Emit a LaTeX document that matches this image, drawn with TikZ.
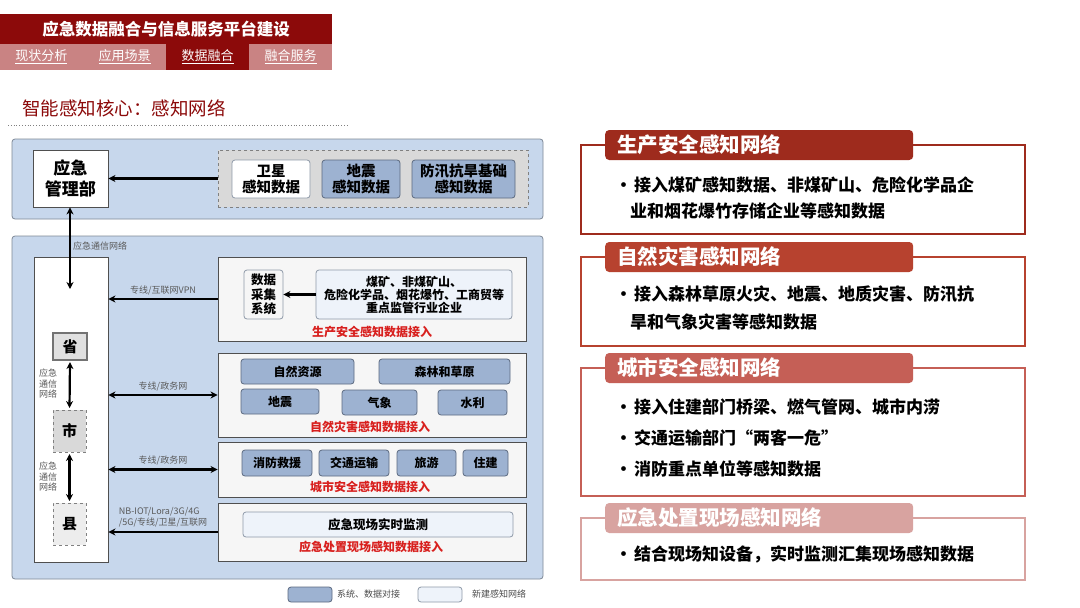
\documentclass[tikz,border=0pt]{standalone}
\usepackage{fontspec}
\setmainfont{Noto Sans CJK SC}
\usetikzlibrary{arrows, arrows.meta, positioning}
\definecolor{headred}{HTML}{8C0A0A}
\definecolor{tabpink}{HTML}{C98383}
\definecolor{panelblue}{HTML}{C7D7EC}
\definecolor{panelline}{HTML}{7E8896}
\definecolor{sysblue}{HTML}{9DB2D1}
\definecolor{sysline}{HTML}{5C6A80}
\definecolor{newblue}{HTML}{EEF3FA}
\definecolor{newline}{HTML}{8E99A8}
\definecolor{secfill}{HTML}{F6F6F6}
\definecolor{secline}{HTML}{4F4F4F}
\definecolor{tagred}{HTML}{D8201E}
\definecolor{netgray}{HTML}{5A5A5A}
\definecolor{redA}{HTML}{9E2B1D}
\definecolor{redB}{HTML}{B7422F}
\definecolor{redC}{HTML}{C55F56}
\definecolor{redD}{HTML}{D8A3A0}
\tikzset{
  headbar/.style={fill=headred, text=white, inner sep=0, font=\fontsize{16.5}{18}\selectfont\bfseries},
  tabbox/.style={inner sep=0, text=white, minimum width=83, minimum height=26, font=\fontsize{13}{14}\selectfont}
}
\tikzset{
  panel/.style={draw=panelline, fill=panelblue, rounded corners=3, line width=0.8},
  sysbox/.style={draw=sysline, fill=sysblue, rounded corners=3, line width=0.8, inner sep=0,
    minimum height=25, font=\fontsize{12}{14}\selectfont\bfseries},
  newbox/.style={draw=newline, fill=newblue, rounded corners=3, line width=0.8, inner sep=0,
    font=\fontsize{12}{13}\selectfont\bfseries},
  secbox/.style={draw=secline, fill=secfill, line width=0.9, inner sep=0, minimum width=308},
  levelbox/.style={draw=gray, fill=#1, line width=1, dashed, inner sep=0, minimum width=33,
    minimum height=42, font=\fontsize{15}{16}\selectfont\bfseries},
  redtag/.style={text=tagred, inner sep=0, font=\fontsize{12}{13}\selectfont\bfseries},
  nettext/.style={text=netgray, inner sep=0, font=\fontsize{9}{11}\selectfont},
  link/.style={line width=2.2, black}
}
\tikzset{
  tabhead/.style={fill=#1, rounded corners=4, anchor=west, text=white, align=left, text width=284,
    inner xsep=12, inner ysep=0, minimum height=30, font=\fontsize{20.5}{22}\selectfont\bfseries},
  frame/.style={draw=#1, line width=1.4},
  bodytext/.style={anchor=west, inner sep=0, font=\fontsize{17}{20}\selectfont\bfseries}
}
\begin{document}
\begin{tikzpicture}[x=1pt, y=-1pt, >={Stealth[length=7pt, width=7pt]}]
  \useasboundingbox[fill=white] (0,0) rectangle (1080,608);

  % header
  \node[headbar, minimum width=332, minimum height=30] (head) at (166,29) {应急数据融合与信息服务平台建设};
  \node[tabbox, fill=tabpink] (tab1) at (41.5,57) {\underline{现状分析}};
  \node[tabbox, fill=tabpink] (tab2) at (124.5,57) {\underline{应用场景}};
  \node[tabbox, fill=headred] (tab3) at (207.5,57) {\underline{数据融合}};
  \node[tabbox, fill=tabpink] (tab4) at (290.5,57) {\underline{融合服务}};
  \node[anchor=west, inner sep=0, text=headred, font=\fontsize{18.5}{20}\selectfont] (sub) at (22,108) {智能感知核心：感知网络};
  \draw[dotted, gray, line width=0.8] (8,125) -- (348,125);

  % upper panel
  \node[panel, minimum width=531, minimum height=80] (top) at (277.5,179) {};
  \node[draw=secline, fill=white, line width=0.9, minimum width=75, minimum height=57, align=center,
    inner sep=0, font=\fontsize{17}{21}\selectfont\bfseries] (yjglb) at (70.5,178.5) {应急\\管理部};
  \node[draw=gray, fill=black!15, dashed, line width=0.9, minimum width=310, minimum height=57] (sensors) at (373,178.5) {};
  \node[newbox, fill=white, minimum width=78, minimum height=38, align=center,
    font=\fontsize{14.5}{16}\selectfont\bfseries] (wx) at (271,179) {卫星\\感知数据};
  \node[sysbox, minimum width=78, minimum height=38, align=center,
    font=\fontsize{14.5}{16}\selectfont\bfseries] (dz) at (361,179) {地震\\感知数据};
  \node[sysbox, minimum width=103, minimum height=38, align=center,
    font=\fontsize{14.5}{16}\selectfont\bfseries] (fx) at (463.5,179) {防汛抗旱基础\\感知数据};
  \draw[link, ->] (sensors.west) -- (yjglb.east);

  % lower panel
  \node[panel, minimum width=531, minimum height=343] (bottom) at (277.5,407.5) {};
  \node[nettext, anchor=west] (nettop) at (73,246) {应急通信网络};
  \node[draw=secline, fill=white, line width=0.9, minimum width=74, minimum height=305] (col) at (71,409.5) {};
  \coordinate (colin) at (70,289);
  \draw[link, <->] (yjglb.south -| colin) -- (colin);

  \node[draw=gray!90!black, fill=black!12, line width=1.2, inner sep=0, minimum width=34, minimum height=27,
    font=\fontsize{15}{16}\selectfont\bfseries] (sheng) at (70,346.5) {省};
  \node[levelbox=black!15] (shi) at (69.5,431) {市};
  \node[levelbox=black!7] (xian) at (69.5,524) {县};
  \draw[link, <->, shorten <=1.5, shorten >=1.5] (sheng.south) -- (shi.north);
  \draw[link, <->, shorten <=1.5, shorten >=1.5] (shi.south) -- (xian.north);
  \node[nettext, align=center, font=\fontsize{9}{10.5}\selectfont] (net1) at (48,384) {应急\\通信\\网络};
  \node[nettext, align=center, font=\fontsize{9}{10.5}\selectfont] (net2) at (48,477) {应急\\通信\\网络};

  % production safety
  \node[secbox, minimum height=84] (sec1) at (372,299) {};
  \node[newbox, fill=secfill, minimum width=39, minimum height=49, align=center,
    font=\fontsize{12.5}{14.5}\selectfont\bfseries] (cj) at (263.5,294.5) {数据\\采集\\系统};
  \node[newbox, minimum width=196, minimum height=49, align=center] (qy) at (414,294.5)
    {煤矿、非煤矿山、\\危险化学品、烟花爆竹、工商贸等\\重点监管行业企业};
  \draw[link, ->] (qy.west) -- (cj.east);
  \node[redtag] (tag1) at (372,332) {生产安全感知数据接入};
  \draw[link, ->] (sec1.west) -- (sec1.west -| col.east) node[midway, above=3pt, nettext] {专线/互联网VPN};

  % natural disasters
  \node[secbox, minimum height=84] (sec2) at (372,395) {};
  \node[sysbox, minimum width=113] (zrzy) at (297.5,371.5) {自然资源};
  \node[sysbox, minimum width=131] (sl) at (444.5,371.5) {森林和草原};
  \node[sysbox, minimum width=78] (dizhen) at (280,401.5) {地震};
  \node[sysbox, minimum width=75] (qx) at (379.5,402.5) {气象};
  \node[sysbox, minimum width=69] (shl) at (472.5,402.5) {水利};
  \node[redtag] (tag2) at (370,427) {自然灾害感知数据接入};
  \draw[link, <->] (sec2.west) -- (sec2.west -| col.east) node[midway, above=3pt, nettext] {专线/政务网};

  % city safety
  \node[secbox, minimum height=55] (sec3) at (372,469.5) {};
  \node[sysbox, minimum width=70, minimum height=26] (xf) at (277,463) {消防救援};
  \node[sysbox, minimum width=70, minimum height=26] (jt) at (354,463) {交通运输};
  \node[sysbox, minimum width=59, minimum height=26] (ly) at (426.5,463) {旅游};
  \node[sysbox, minimum width=45, minimum height=26] (zj) at (485.5,463) {住建};
  \node[redtag] (tag3) at (370,487) {城市安全感知数据接入};
  \draw[link, <->] (sec3.west) -- (sec3.west -| col.east) node[midway, above=3pt, nettext] {专线/政务网};

  % on-site emergency
  \node[secbox, minimum height=58] (sec4) at (372,532) {};
  \node[newbox, minimum width=270, minimum height=25, font=\fontsize{12.5}{14}\selectfont\bfseries] (jc) at (378,524.5) {应急现场实时监测};
  \node[redtag] (tag4) at (371,547) {应急处置现场感知数据接入};
  \draw[link, ->] (sec4.west) -- (sec4.west -| col.east) node[midway, above=4pt, nettext, align=left] {NB-IOT/Lora/3G/4G\\/5G/专线/卫星/互联网};

  % legend
  \node[sysbox, minimum width=44, minimum height=15] (lg1) at (310,594.5) {};
  \node[nettext, anchor=west, text=black!70] (lg1t) at (337,594.5) {系统、数据对接};
  \node[newbox, minimum width=44, minimum height=15] (lg2) at (440,594.5) {};
  \node[nettext, anchor=west, text=black!70] (lg2t) at (472,594.5) {新建感知网络};

  % right: perception networks
  \coordinate (t1w) at (605,145); \coordinate (t1e) at (913,145);
  \coordinate (p1a) at (581,234); \coordinate (p1b) at (1025,234);
  \draw[frame=redA] (t1w) -| (p1a) -- (p1b) |- (t1e);
  \node[tabhead=redA] (t1) at (t1w) {生产安全感知网络};
  \node[bodytext] (b11) at (615,185) {•\hspace{2pt}接入煤矿感知数据、非煤矿山、危险化学品企};
  \node[bodytext] (b12) at (630,211) {业和烟花爆竹存储企业等感知数据};

  \coordinate (t2w) at (605,257); \coordinate (t2e) at (913,257);
  \coordinate (p2a) at (581,346); \coordinate (p2b) at (1025,346);
  \draw[frame=redB] (t2w) -| (p2a) -- (p2b) |- (t2e);
  \node[tabhead=redB] (t2) at (t2w) {自然灾害感知网络};
  \node[bodytext] (b21) at (615,294) {•\hspace{2pt}接入森林草原火灾、地震、地质灾害、防汛抗};
  \node[bodytext] (b22) at (630,322) {旱和气象灾害等感知数据};

  \coordinate (t3w) at (605,368); \coordinate (t3e) at (913,368);
  \coordinate (p3a) at (581,496); \coordinate (p3b) at (1025,496);
  \draw[frame=redC] (t3w) -| (p3a) -- (p3b) |- (t3e);
  \node[tabhead=redC] (t3) at (t3w) {城市安全感知网络};
  \node[bodytext] (b31) at (615,407) {•\hspace{2pt}接入住建部门桥梁、燃气管网、城市内涝};
  \node[bodytext] (b32) at (615,438) {•\hspace{2pt}交通运输部门“两客一危”};
  \node[bodytext] (b33) at (615,469) {•\hspace{2pt}消防重点单位等感知数据};

  \coordinate (t4w) at (605,518); \coordinate (t4e) at (913,518);
  \coordinate (p4a) at (581,580); \coordinate (p4b) at (1025,580);
  \draw[frame=redD] (t4w) -| (p4a) -- (p4b) |- (t4e);
  \node[tabhead=redD] (t4) at (t4w) {应急处置现场感知网络};
  \node[bodytext] (b41) at (615,554) {•\hspace{2pt}结合现场知设备，实时监测汇集现场感知数据};
\end{tikzpicture}
\end{document}
